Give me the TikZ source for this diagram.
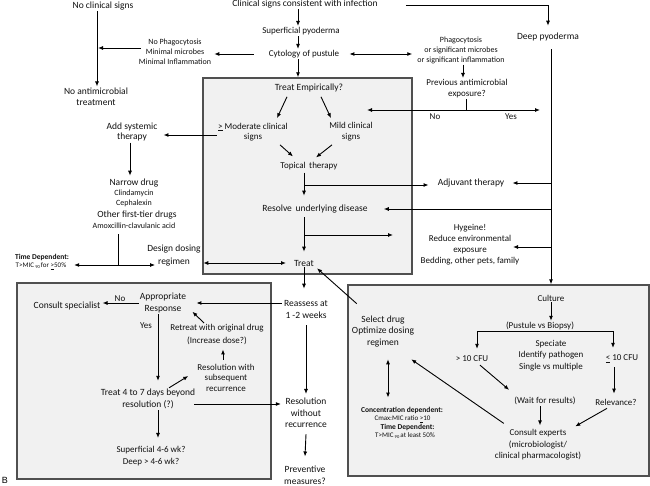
\documentclass[tikz,border=0pt]{standalone}
\usepackage{fontspec}
\setmainfont{Carlito}
\newfontfamily\arialf{Liberation Sans}
\usetikzlibrary{arrows.meta}
\definecolor{txt}{HTML}{111111}
\definecolor{boxfill}{HTML}{F1F1F1}
\definecolor{boxline}{HTML}{505050}
\newcommand\fs[2]{\fontsize{#1}{#2}\selectfont}
\newcommand\subn{\,\raisebox{-1pt}{\fs{4.5}{5}90}\,}
\begin{document}
\begin{tikzpicture}[x=1pt,y=-1pt,
 t/.style={inner sep=1pt, align=center, text=txt, font=\fs{9.5}{11.5}},
 ts/.style={t, font=\fs{9}{11}},
 tb/.style={t, font=\fs{8}{10}},
 tc/.style={t, font=\fs{7}{8.5}},
 tcb/.style={t, font=\fs{7.5}{8.5}\bfseries},
 arr/.style={-{Latex[length=5pt,width=4pt]}, line width=0.9pt},
 darr/.style={{Latex[length=5pt,width=4pt]}-{Latex[length=5pt,width=4pt]}, line width=0.9pt},
 ln/.style={line width=0.9pt},
 panel/.style={draw=boxline, fill=boxfill, line width=1.4pt, inner sep=0pt}
]
\useasboundingbox (0,0) rectangle (650,486);
\fill[white] (0,0) rectangle (650,486);

% panels
\node[panel, minimum width=209pt, minimum height=196pt] (box1) at (307.5,176) {};
\node[panel, minimum width=254pt, minimum height=196pt] (box2) at (144,381) {};
\node[panel, minimum width=301pt, minimum height=191pt] (box3) at (498.5,380.5) {};

% columns
\coordinate (cx) at (298,0);
\coordinate (c0) at (97,0);
\coordinate (c3) at (463,0);
\coordinate (c6) at (551,0);
\coordinate (cT) at (304,0);
\coordinate (cS) at (130,0);
\coordinate (cA) at (158,0);
\coordinate (cH) at (223,0);
\coordinate (cR) at (614,0);
\coordinate (cD) at (388,0);
\coordinate (cW) at (540,0);

% top
\node[t] (clin) at (305,4) {Clinical signs consistent with infection};
\node[t] (nocs) at (103,6) {No clinical signs};
\node[ts] (sup) at (301,31) {Superficial pyoderma};
\node[ts] (cyt) at (304,54) {Cytology of pustule};
\node[tb] (noph) at (175,52) {No Phagocytosis\\Minimal microbes\\Minimal Inflammation};
\node[tb] (phag) at (461,50) {Phagocytosis\\or significant microbes\\or significant inflammation};
\node[t] (deep) at (548,37) {Deep pyoderma};
\node[ts] (prev) at (467,88.5) {Previous antimicrobial\\exposure?};
\node[ts] (no1) at (435,117) {No};
\node[ts] (yes1) at (511,117) {Yes};
\node[t, font=\fs{9.5}{11}] (noab) at (96,96.5) {No antimicrobial\\treatment};

% box 1
\node[t] (te) at (309,88) {Treat Empirically?};
\node[ts, font=\fs{9}{10.5}] (mod) at (253,132) {\underline{>} Moderate clinical\\signs};
\node[ts, font=\fs{9}{10.5}] (mild) at (351,131.5) {Mild clinical\\signs};
\node[ts] (top) at (309,166) {Topical\, therapy};
\node[t] (res) at (315,209) {Resolve\, underlying disease};
\node[t] (treat) at (304,263) {Treat};
\node[t] (adj) at (471,183) {Adjuvant therapy};
\node[ts] (hyg) at (470,244.5) {Hygeine!\\Reduce environmental\\exposure\\Bedding, other pets, family};

% left column
\node[t, font=\fs{9.5}{10.5}] (sys) at (132,132) {Add systemic\\therapy};
\node[t] (nd1) at (134,183) {Narrow drug};
\node[tb] (nd2) at (134,193) {Clindamycin};
\node[tb] (nd3) at (134,203) {Cephalexin};
\node[t] (nd4) at (137,215) {Other first-tier drugs};
\node[tb] (nd5) at (134,226) {Amoxcillin-clavulanic acid};
\node[t, font=\fs{9.5}{13}] (design) at (174,255.5) {Design dosing\\regimen};
\node[tcb] (td1) at (42,257) {Time Dependent:};
\node[tc] (td2) at (41,266) {T>MIC\subn for \underline{>}50\%};

% middle column
\node[t, font=\fs{9.5}{12}] (reass) at (306,309) {Reassess at\\1 -2 weeks};
\node[t] (rwr) at (306,413) {Resolution\\without\\recurrence};
\node[t, font=\fs{9.5}{12}] (prevm) at (305,475) {Preventive\\measures?};

% box 2
\node[t, font=\fs{9.5}{12}] (appr) at (163,303) {Appropriate\\Response};
\node[ts] (no2) at (120,299) {No};
\node[ts] (yes2) at (146,326) {Yes};
\node[t] (consp) at (67,306) {Consult specialist};
\node[ts, font=\fs{9}{13}] (retreat) at (217,334.5) {Retreat with original drug\\(Increase dose?)};
\node[ts, font=\fs{9}{10.5}] (rwsr) at (226,377.5) {Resolution with\\subsequent\\recurrence};
\node[t, font=\fs{9.5}{12}] (treat47) at (148,399) {Treat 4 to 7 days beyond\\resolution (?)};
\node[ts, font=\fs{9}{12}] (supdeep) at (151,456) {Superficial 4-6 wk?\\Deep > 4-6 wk?};

% box 3
\node[ts] (culture) at (551,298) {Culture};
\node[ts] (pvb) at (540,326) {(Pustule vs Biopsy)};
\node[ts] (gt10) at (472,359) {> 10 CFU};
\node[ts, font=\fs{9}{11.5}] (spec) at (551,355.5) {Speciate\\Identify pathogen\\Single vs multiple};
\node[ts] (le10) at (622,359) {\underline{<} 10 CFU};
\node[ts] (wait) at (545,401) {(Wait for results)};
\node[ts] (relev) at (616,402) {Relevance?};
\node[ts, font=\fs{9}{11.5}] (consult) at (538,445) {Consult experts\\(microbiologist/\\clinical pharmacologist)};
\node[t] (select) at (383,331.5) {Select drug\\Optimize dosing\\regimen};
\node[tcb] (cd1) at (402,410) {Concentration dependent:};
\node[tc] (cd2) at (402.5,419) {Cmax:MIC ratio \underline{>}10};
\node[tcb] (cd3) at (407.5,427) {Time Dependent:};
\node[tc] (cd4) at (405,436) {T>MIC\subn at least 50\%};

\node[inner sep=0pt, font=\arialf\fs{9}{10}] (blab) at (5,480) {B};

% connectors top
\draw[arr] (clin.south -| cx) -- (sup.north -| cx);
\draw[arr] (sup.south -| cx) -- (cyt.north -| cx);
\draw[arr] (cyt.south -| cx) -- (box1.north -| cx);
\draw[arr] ([xshift=-14pt]cyt.west) -- ([xshift=2pt]noph.east |- cyt.west);
\draw[darr] ([xshift=9pt]cyt.east) -- ([xshift=-4pt]phag.west |- cyt.east);
\coordinate (nl) at (98,48);
\draw[arr] ([xshift=3pt]noph.west |- nl) -- (nl);
\draw[arr] (nocs.south -| c0) -- (noab.north -| c0);
\draw[arr] ([xshift=27pt,yshift=-1pt]clin.east) -| ([yshift=6pt]deep.north);
\draw[arr] (phag.south -| c3) -- (prev.north -| c3);
\coordinate (ny) at (466,110);
\coordinate (nyL) at (367,110);
\coordinate (nyR) at (540,110);
\draw[ln] (prev.south -| ny) -- (ny);
\draw[arr] (ny) -- (nyL);
\draw[arr] (ny) -- (nyR);
\draw[arr] ([yshift=-7pt]deep.south -| c6) -- (box3.north -| c6);
\draw[arr] (c6 |- adj.east) -- ([xshift=7pt]adj.east);
\draw[arr] (c6 |- res.east) -- ([xshift=15pt]res.east);
\coordinate (hyga) at (513,247);
\draw[arr] (c6 |- hyga) -- (hyga);

% box 1 connectors
\draw[arr] ([shift={(-22pt,-3.5pt)}]te.south) -- ([shift={(24pt,3.5pt)}]mod.north);
\draw[arr] ([shift={(12pt,-3.5pt)}]te.south) -- ([shift={(-20pt,3pt)}]mild.north);
\draw[arr] ([shift={(27pt,-2.5pt)}]mod.south) -- ([shift={(-16pt,4.5pt)}]top.north);
\draw[arr] ([shift={(-19pt,-3pt)}]mild.south) -- ([shift={(7pt,3.5pt)}]top.north);
\draw[arr] ([yshift=-1.5pt]top.south -| cT) -- ([yshift=8pt]res.north -| cT);
\coordinate (br1) at (304,185);
\draw[arr] (br1) -- ([xshift=-8pt]adj.west |- br1);
\draw[arr] ([yshift=-3pt]res.south -| cT) -- ([yshift=7pt]treat.north -| cT);
\coordinate (br2) at (304,235);
\coordinate (hb) at (393,235);
\draw[arr] (br2) -- (hb);
\draw[darr] ([xshift=-7pt]treat.west) -- ([xshift=1pt]box1.west |- treat.west);

% left column connectors
\coordinate (mw) at ([yshift=-3pt]mod.west);
\draw[arr] (mw) -- ([xshift=5pt]sys.east |- mw);
\draw[arr] (sys.south -| cS) -- ([yshift=2pt]nd1.north -| cS);
\coordinate (tdj) at (118,265);
\draw[ln] ([yshift=-4pt]nd5.south -| tdj) -- (tdj);
\draw[arr] (tdj) -- ([xshift=4pt]td1.east |- tdj);
\draw[arr] (tdj) -- ([xshift=9pt]design.west |- tdj);

% middle connectors
\draw[arr] (treat.south) -- ([yshift=10pt]reass.north -| treat.south);
\draw[arr] ([shift={(6pt,11pt)}]select.north west) -- ([shift={(2pt,-1pt)}]treat.south east);
\draw[arr] ([xshift=-1pt]reass.west |- appr.east) -- ([xshift=9pt]appr.east);
\draw[arr] ([yshift=-6pt]reass.south) -- ([yshift=3pt]rwr.north);
\draw[arr] ([yshift=-5pt]rwr.south) -- ([yshift=8pt]prevm.north);

% box 2 connectors
\draw[arr] (appr.west) -- ([xshift=1pt]consp.east |- appr.west);
\draw[arr] (appr.south -| cA) -- ([yshift=7pt]treat47.north -| cA);
\draw[arr] ([xshift=21pt]treat47.north) -- ([shift={(-8pt,1.5pt)}]rwsr.west);
\draw[arr] ([yshift=3pt]rwsr.north -| cH) -- ([yshift=-3.5pt]retreat.south -| cH);
\draw[arr] ([xshift=35pt]retreat.north west) -- ([shift={(5pt,2.5pt)}]appr.south east);
\coordinate (aj) at ([shift={(-2pt,-5pt)}]treat47.east);
\draw[arr] (aj) -- ([xshift=-3pt]rwr.west |- aj);
\draw[arr] (treat47.south -| cA) -- ([yshift=7pt]supdeep.north -| cA);

% box 3 connectors
\draw[arr] (culture.south -| c6) -- (pvb.north -| c6);
\draw[arr] (pvb.south) -| ([shift={(5pt,6pt)}]gt10.north);
\draw[arr] (pvb.south) -| ([shift={(-9pt,6pt)}]le10.north);
\draw[arr] ([shift={(8pt,-2pt)}]gt10.south) -- ([shift={(-4pt,6pt)}]wait.north west);
\draw[arr] ([yshift=-3pt]le10.south -| cR) -- ([yshift=4pt]relev.north -| cR);
\draw[arr] (wait.south -| cW) -- ([yshift=3pt]consult.north -| cW);
\draw[arr] ([shift={(-9pt,-2pt)}]relev.south) -- ([shift={(-7pt,2pt)}]consult.north east);
\draw[arr] ([shift={(10pt,5pt)}]consult.north west) -- ([shift={(-4pt,-11pt)}]select.south east);
\draw[darr] ([yshift=-11pt]select.south -| cD) -- ([yshift=8pt]cd1.north -| cD);
\end{tikzpicture}
\end{document}
